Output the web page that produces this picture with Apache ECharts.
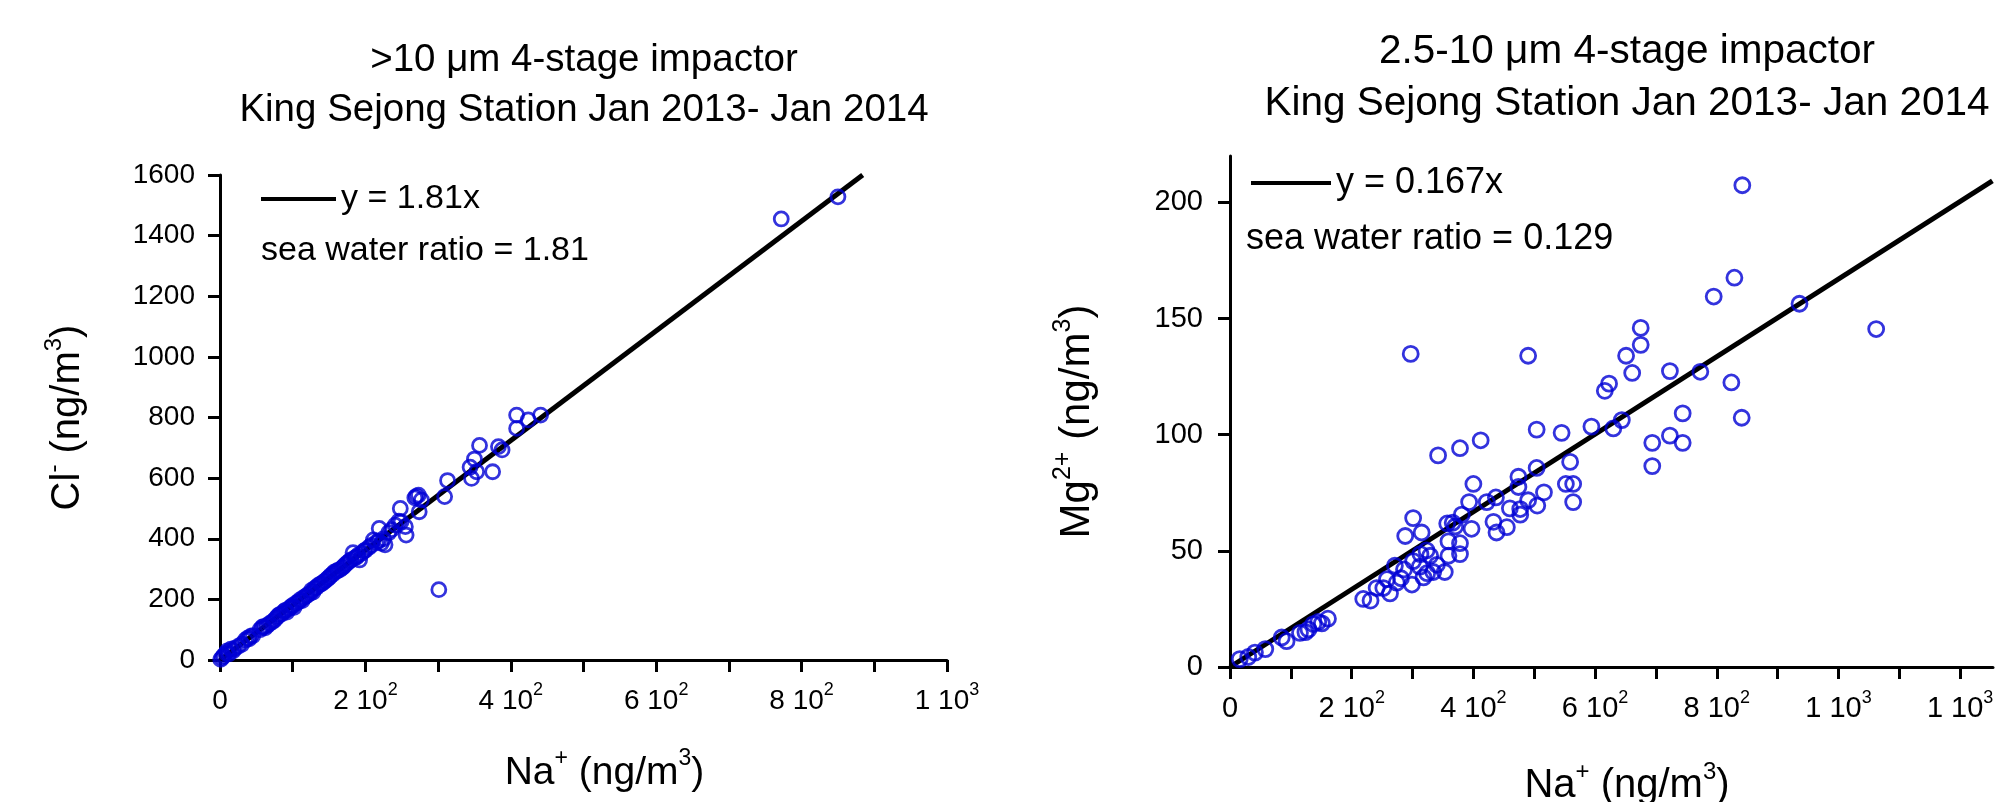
<!DOCTYPE html>
<html><head><meta charset="utf-8">
<script src="https://cdn.jsdelivr.net/npm/echarts@6/dist/echarts.min.js"></script>
<style>html,body{margin:0;padding:0;background:#fff}#c{width:1997px;height:802px}</style>
</head><body><div id="c"></div>
<script>
const FONT = '"Liberation Sans", Arial, sans-serif';

// ---- left panel: >10 um ----
const naLeft = [1,3,5,8,10,12,15,18,20,25,30,35,38,40,42,45,55,58,60,62,65,68,72,75,78,80,82,85,88,90,92,95,98,100,102,105,108,110,113,115,118,120,124,126,128,130,133,135,138,140,143,145,148,150,152,155,157,160,162,165,168,170,172,175,178,180,183,185,188,190,192,195,198,200,205,208,211,215,218,219,222,225,227,232,236,241,246,248,249,255,256,268,270,273,274,277,301,309,313,344,346,350,353,357,375,383,388,408,408,424,441,772,850];
const clLeft = [2,8,14,22,30,20,36,30,38,45,52,66,72,70,78,80,100,108,110,106,114,120,126,132,140,146,150,152,160,164,158,170,176,180,174,188,192,198,196,206,210,214,220,230,224,236,240,246,250,252,258,262,268,272,278,283,290,292,296,298,304,308,314,320,326,330,354,336,340,346,330,352,360,362,372,378,396,388,392,434,385,400,380,420,430,445,458,500,456,440,412,535,540,544,489,528,232,539,592,636,599,663,621,708,621,704,693,808,764,792,808,1455,1528];
const slopeLeft = 1.81;
const fitEndLeft = 884;
const titleLeft = '>10 \u03bcm 4-stage impactor\nKing Sejong Station Jan 2013- Jan 2014';
const fitNameLeft = 'y = 1.81x';
const ratioLeft = 'sea water ratio = 1.81';
const xTicksLeft = [0,100,200,300,400,500,600,700,800,900,1000];
const xLabelValsLeft = [0,200,400,600,800,1000];
const xLabelMantLeft = ['0','2','4','6','8','1'];
const xLabelExpLeft = ['','2','2','2','2','3'];
const yTicksLeft = [0,200,400,600,800,1000,1200,1400,1600];

// ---- right panel: 2.5-10 um ----
const naRight = [16,30,41,58,85,93,115,124,129,137,145,151,161,219,231,241,252,258,263,271,274,281,286,288,297,299,301,301,312,313,315,318,323,324,329,334,340,342,353,357,359,359,366,370,378,378,378,381,393,397,400,412,422,433,437,438,455,460,474,474,477,477,490,490,504,504,505,516,545,552,559,564,564,594,616,623,630,644,651,661,675,675,694,694,723,723,744,744,773,795,824,829,841,842,936,1062];
const mgRight = [3.4,4.3,6.2,7.7,12.7,11.1,14.7,15,16.2,18.5,19.4,18.8,20.8,29.3,28.6,34,34,37.8,31.7,43.6,36.3,38.2,42,56.4,134.8,35.5,45.6,64.1,43.2,48.6,57.9,38.6,50.2,40.4,47.9,40.9,44,91.1,40.9,61.8,54.1,47.9,62.1,60.5,94.2,53.3,48.6,65.6,71,59.5,78.8,97.6,71,62.5,73,57.9,60.2,68.3,81.9,77.5,68,65.6,134,71.8,102.2,85.7,69.5,75.2,100.8,78.8,88.3,78.8,71,103.5,118.9,122,102.7,106.3,134,126.6,146,138.7,96.5,86.5,127.4,99.6,109.2,96.5,127.1,159.5,122.5,167.6,107.3,207.4,156.4,145.5];
const slopeRight = 0.167;
const fitEndRight = 1253;
const titleRight = '2.5-10 \u03bcm 4-stage impactor\nKing Sejong Station Jan 2013- Jan 2014';
const fitNameRight = 'y = 0.167x';
const ratioRight = 'sea water ratio = 0.129';
const xTicksRight = [0,100,200,300,400,500,600,700,800,900,1000,1100,1200];
const xLabelValsRight = [0,200,400,600,800,1000,1200];
const xLabelMantRight = ['0','2','4','6','8','1','1'];
const xLabelExpRight = ['','2','2','2','2','3','3'];
const yTicksRight = [0,50,100,150,200];

function sciFormatter(vals, mant, exp) {
  return function (v) {
    const i = vals.indexOf(v);
    if (i < 0) return '';
    return exp[i] ? mant[i] + ' 10{s|' + exp[i] + '}' : mant[i];
  };
}
function plainFormatter(v) { return String(v); }
function supRich(sfs) {
  return { s: { fontSize: sfs, verticalAlign: 'top', fontFamily: FONT, color: '#000' } };
}
const axLine = { show: true, lineStyle: { color: '#000', width: 3 } };
const tickStyle = { color: '#000', width: 3 };
const ptColor = '#0000d4';

const chart = echarts.init(document.getElementById('c'), null, { renderer: 'canvas' });
chart.setOption({
  animation: false,
  backgroundColor: '#fff',
  title: [
    { text: titleLeft, left: 584, top: 35, textAlign: 'center', padding: 0,
      textStyle: { fontSize: 38.5, lineHeight: 50, fontWeight: 'normal', fontFamily: FONT, color: '#000' } },
    { text: titleRight, left: 1627, top: 26, textAlign: 'center', padding: 0,
      textStyle: { fontSize: 40.5, lineHeight: 52, fontWeight: 'normal', fontFamily: FONT, color: '#000' } },
    { text: ratioLeft, left: 261, top: 233, padding: 0,
      textStyle: { fontSize: 34, lineHeight: 36, fontWeight: 'normal', fontFamily: FONT, color: '#000' } },
    { text: ratioRight, left: 1246, top: 220, padding: 0,
      textStyle: { fontSize: 36, lineHeight: 38, fontWeight: 'normal', fontFamily: FONT, color: '#000' } }
  ],
  legend: [
    { data: [fitNameLeft], left: 261, top: 182, padding: 0, icon: 'rect', itemWidth: 75, itemHeight: 4,
      itemStyle: { color: '#000' }, textStyle: { fontSize: 34, fontFamily: FONT, color: '#000' } },
    { data: [fitNameRight], left: 1251, top: 165, padding: 0, icon: 'rect', itemWidth: 80, itemHeight: 4,
      itemStyle: { color: '#000' }, textStyle: { fontSize: 36, fontFamily: FONT, color: '#000' } }
  ],
  grid: [
    { left: 220, top: 175, width: 727, height: 485, containLabel: false, outerBoundsMode: 'none' },
    { left: 1230, top: 156, width: 763, height: 511, containLabel: false, outerBoundsMode: 'none' }
  ],
  xAxis: [
    { gridIndex: 0, type: 'value', min: 0, max: 1000,
      axisLine: axLine, splitLine: { show: false },
      axisTick: { show: true, customValues: xTicksLeft, length: 12, lineStyle: tickStyle },
      axisLabel: { customValues: xLabelValsLeft, margin: 21, fontSize: 28, lineHeight: 40, fontFamily: FONT, color: '#000',
        formatter: sciFormatter(xLabelValsLeft, xLabelMantLeft, xLabelExpLeft), rich: supRich(18) },
      name: 'Na{s|+} (ng/m{s|3})', nameLocation: 'middle', nameGap: 87,
      nameTextStyle: { fontSize: 39, lineHeight: 52, fontFamily: FONT, color: '#000', padding: [0, 0, 0, 42], rich: supRich(23) } },
    { gridIndex: 1, type: 'value', min: 0, max: 1254,
      axisLine: axLine, splitLine: { show: false },
      axisTick: { show: true, customValues: xTicksRight, length: 12, lineStyle: tickStyle },
      axisLabel: { customValues: xLabelValsRight, margin: 22, fontSize: 29, lineHeight: 40, fontFamily: FONT, color: '#000',
        formatter: sciFormatter(xLabelValsRight, xLabelMantRight, xLabelExpRight), rich: supRich(18) },
      name: 'Na{s|+} (ng/m{s|3})', nameLocation: 'middle', nameGap: 93,
      nameTextStyle: { fontSize: 40, lineHeight: 52, fontFamily: FONT, color: '#000', padding: [0, 0, 0, 31], rich: supRich(24) } }
  ],
  yAxis: [
    { gridIndex: 0, type: 'value', min: 0, max: 1600,
      axisLine: axLine, splitLine: { show: false },
      axisTick: { show: true, customValues: yTicksLeft, length: 12, lineStyle: tickStyle },
      axisLabel: { customValues: yTicksLeft, margin: 25, formatter: plainFormatter, fontSize: 28, fontFamily: FONT, color: '#000' },
      name: 'Cl{s|-} (ng/m{s|3})', nameLocation: 'middle', nameGap: 126,
      nameTextStyle: { fontSize: 40, lineHeight: 52, fontFamily: FONT, color: '#000', rich: supRich(24) } },
    { gridIndex: 1, type: 'value', min: 0, max: 220,
      axisLine: axLine, splitLine: { show: false },
      axisTick: { show: true, customValues: yTicksRight, length: 12, lineStyle: tickStyle },
      axisLabel: { customValues: yTicksRight, margin: 27, formatter: plainFormatter, fontSize: 29, fontFamily: FONT, color: '#000' },
      name: 'Mg{s|2+} (ng/m{s|3})', nameLocation: 'middle', nameGap: 127,
      nameTextStyle: { fontSize: 42, lineHeight: 52, fontFamily: FONT, color: '#000', padding: [0, 20, 0, 0], rich: supRich(25) } }
  ],
  series: [
    { name: fitNameLeft, type: 'line', xAxisIndex: 0, yAxisIndex: 0, symbol: 'none', z: 2,
      lineStyle: { color: '#000', width: 5 },
      data: [[0, 0], [fitEndLeft, slopeLeft * fitEndLeft]] },
    { name: 'left points', type: 'scatter', xAxisIndex: 0, yAxisIndex: 0, symbol: 'circle', symbolSize: 14, z: 3,
      itemStyle: { color: 'rgba(0,0,0,0)', borderColor: ptColor, borderWidth: 2.8 },
      data: naLeft.map((x, i) => [x, clLeft[i]]) },
    { name: fitNameRight, type: 'line', xAxisIndex: 1, yAxisIndex: 1, symbol: 'none', z: 2,
      lineStyle: { color: '#000', width: 5 },
      data: [[0, 0], [fitEndRight, slopeRight * fitEndRight]] },
    { name: 'right points', type: 'scatter', xAxisIndex: 1, yAxisIndex: 1, symbol: 'circle', symbolSize: 15, z: 3,
      itemStyle: { color: 'rgba(0,0,0,0)', borderColor: ptColor, borderWidth: 2.8 },
      data: naRight.map((x, i) => [x, mgRight[i]]) }
  ]
});
</script></body></html>
